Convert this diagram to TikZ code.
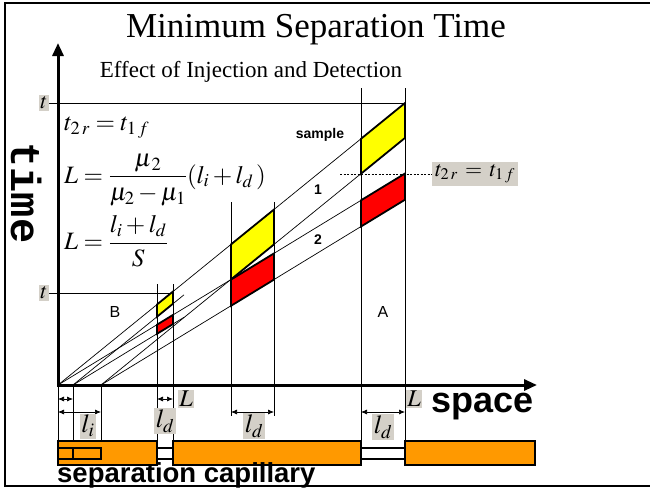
\documentclass[tikz,border=0pt]{standalone}
\usepackage{mathptmx}
\usepackage{fontspec}
\setmainfont{Liberation Serif}
\setsansfont{Liberation Sans}
\setmonofont{Liberation Mono}
\usepackage{amsmath}
\usepackage{tikz}
\usetikzlibrary{arrows.meta,positioning,calc}
\definecolor{boxgray}{HTML}{D4D0C8}
\definecolor{caporange}{HTML}{FF9900}
\definecolor{zoneyellow}{HTML}{FFFF00}
\definecolor{zonered}{HTML}{FF0000}

\begin{document}
\begin{tikzpicture}[
  x=1pt, y=-1pt,
  axis/.style={line width=3pt, -{Triangle[length=13pt,width=11pt]}},
  guide/.style={line width=0.7pt},
  traj/.style={line width=0.7pt},
  band/.style={draw, line width=1.8pt, line join=miter},
  tag/.style={fill=boxgray, inner sep=1.5pt, font=\fontsize{24}{24}\selectfont},
  dimarrow/.style={line width=0.7pt, {Latex[length=6pt,width=5pt]}-{Latex[length=6pt,width=5pt]}},
  seg/.style={draw, line width=1.8pt, fill=caporange},
  tube/.style={line width=1.2pt},
  eq/.style={anchor=west, inner sep=0pt, font=\fontsize{25}{25}\selectfont},
  lbl/.style={font=\sffamily\bfseries\fontsize{14}{14}\selectfont}
]
  \useasboundingbox (0,0) rectangle (650,488);

  % frame
  \draw[line width=1.6pt] (650,3) -- (5,3) -- (5,486) -- (650,486);

  % titles
  \node[font=\fontsize{35}{35}\selectfont] (title) at (316,30) {Minimum Separation Time};
  \node[font=\fontsize{23}{23}\selectfont] (subtitle) at (251,72) {Effect of Injection and Detection};

  % injection points on the space axis
  \coordinate (O) at (58,385);
  \coordinate (Ob) at (73,385);
  \coordinate (Oi) at (101,385);
  \coordinate (ytop) at (58,43);
  \coordinate (xend) at (537,385);

  % time marks
  \node[tag, font=\fontsize{22}{22}\selectfont] (tA) at (44,103) {$t$};
  \node[tag, font=\fontsize{22}{22}\selectfont] (tB) at (44,293) {$t$};
  \draw[guide] (tA.east) -- (405,103);
  \draw[guide] (tB.east) -- (173,293);

  % detector columns
  \draw[guide] (157,284) -- (157,441);
  \draw[guide] (173,284) -- (173,441);
  \draw[guide] (231,202) -- (231,416);
  \draw[guide] (274,202) -- (274,416);
  \draw[guide] (361,88) -- (361,441);
  \draw[guide] (405,88) -- (405,441);
  \draw[guide] (O) -- (58,441);
  \draw[guide] (Ob) -- (73,441);
  \draw[guide] (Oi) -- (101,441);

  % zone trajectories
  \coordinate (frontY) at (405,103);
  \coordinate (frontR) at (405,173.5);
  \coordinate (rearY) at (405,137.9);
  \coordinate (rearR) at (405,199.7);
  \coordinate (shortY) at (184,294.8);
  \coordinate (shortR) at (184,317.3);
  \draw[traj] (O) -- (frontY);
  \draw[traj] (O) -- (frontR);
  \draw[traj] (Oi) -- (rearY);
  \draw[traj] (Oi) -- (rearR);
  \draw[traj] (Ob) -- (shortY);
  \draw[traj] (Ob) -- (shortR);

  % zones at B
  \filldraw[band, fill=zoneyellow] (157,304.5) -- (173,291.5) -- (173,303.7) -- (157,316.7) -- cycle;
  \filldraw[band, fill=zonered] (157,324.7) -- (173,314.9) -- (173,324.1) -- (157,333.8) -- cycle;
  % zones in the middle
  \filldraw[band, fill=zoneyellow] (231,244.4) -- (274,209.5) -- (274,244.4) -- (231,279.4) -- cycle;
  \filldraw[band, fill=zonered] (231,279.6) -- (274,253.4) -- (274,279.6) -- (231,305.8) -- cycle;
  % zones at A
  \filldraw[band, fill=zoneyellow] (361,138.8) -- (405,103) -- (405,137.9) -- (361,173.7) -- cycle;
  \filldraw[band, fill=zonered] (361,200.3) -- (405,173.5) -- (405,199.7) -- (361,226.5) -- cycle;

  % axes
  \draw[axis] (58,387) -- (ytop);
  \draw[axis] (O) -- (xend);
  \node[rotate=-90, font=\ttfamily\bfseries\fontsize{42}{42}\selectfont] (timelbl) at (27,193) {time};
  \node[anchor=west, font=\sffamily\bfseries\fontsize{36}{36}\selectfont] (spacelbl) at (428,407) {space};

  % relations
  \node[eq] (eqt) at (64,128) {$t_{2\,r} = t_{1\,f}$};
  \node[eq] (eqmu) at (64,180) {$L = \dfrac{\mu_{\,2}}{\mu_2 - \mu_1}(l_i + l_d\,)$};
  \node[eq] (eqS) at (64,241) {$L = \dfrac{l_i + l_d}{S}$};

  \node[lbl] (sample) at (320,135) {sample};
  \node[lbl] (one) at (318,190) {1};
  \node[lbl] (two) at (318,240) {2};
  \node[font=\sffamily\fontsize{16}{16}\selectfont] (regB) at (115,312) {B};
  \node[font=\sffamily\fontsize{16}{16}\selectfont] (regA) at (383,312) {A};

  % crossing time at A
  \node[tag, inner sep=3pt, font=\fontsize{22}{22}\selectfont] (cross) at (475,174) {$t_{2\,r}\, = \,t_{1\,f}$};
  \draw[guide, dash pattern=on 2pt off 1.5pt] (340,174) -- (cross.west);

  % widths below the axis
  \draw[dimarrow] (58,399) -- (73,399);
  \draw[dimarrow] (157,399) -- (173,399);
  \draw[dimarrow] (58,412) -- (101,412);
  \draw[dimarrow] (231,412) -- (274,412);
  \draw[dimarrow] (361,412) -- (405,412);
  \node[tag] (LB) at (186,399) {$L$};
  \node[tag] (LA) at (414,399) {$L$};
  \node[tag, font=\fontsize{26}{26}\selectfont] (li) at (88,426) {$l_i$};
  \node[tag, font=\fontsize{26}{26}\selectfont] (ldB) at (165,421) {$l_d$};
  \node[tag, font=\fontsize{26}{26}\selectfont] (ldM) at (254,426) {$l_d$};
  \node[tag, font=\fontsize{26}{26}\selectfont] (ldA) at (383,427) {$l_d$};

  % separation capillary
  \draw[tube] (157,448) -- (173,448) (157,459) -- (173,459);
  \draw[tube] (361,448) -- (405,448) (361,459) -- (405,459);
  \filldraw[seg] (58,441) rectangle (157,465);
  \filldraw[seg] (173,441) rectangle (361,465);
  \filldraw[seg] (405,441) rectangle (535,465);
  \draw[tube] (58,448) rectangle (101,459);
  \draw[tube] (73,448) -- (73,459);
  \node[anchor=base west, inner sep=0pt, font=\sffamily\bfseries\fontsize{27.5}{27.5}\selectfont] (caplbl) at (57,482) {separation capillary};
\end{tikzpicture}
\end{document}
